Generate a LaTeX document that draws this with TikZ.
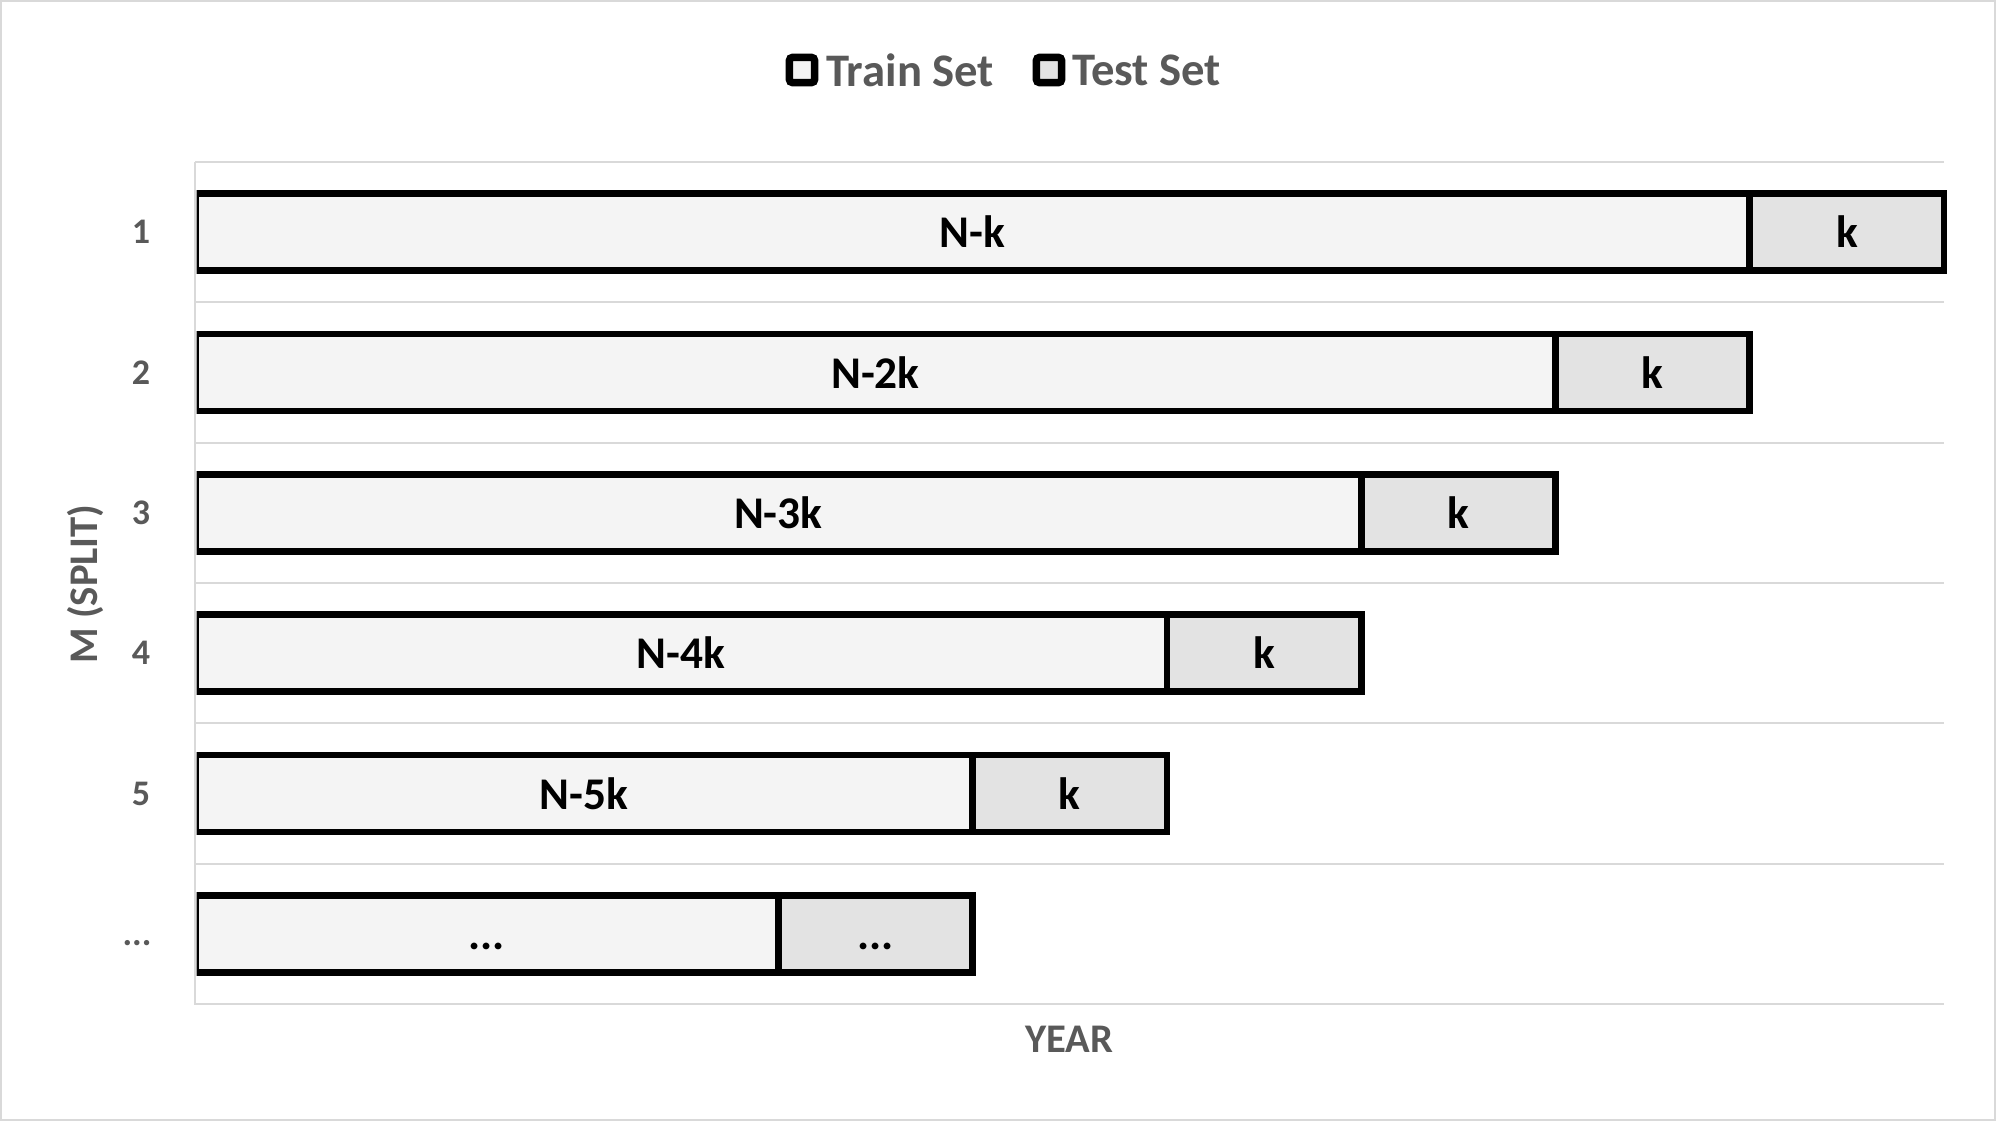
\documentclass[tikz,border=0pt]{standalone}
\usepackage{fontspec}
\setmainfont{Carlito}
\definecolor{txtgray}{HTML}{595959}
\definecolor{gridgray}{HTML}{D9D9D9}
\definecolor{trainfill}{HTML}{F4F4F4}
\definecolor{testfill}{HTML}{E3E3E3}
\begin{document}
\begin{tikzpicture}[x=0.75pt,y=-0.75pt,
  barpart/.style={draw=black,line width=5pt,minimum height=57.75pt,inner sep=0pt,outer sep=0pt,anchor=west,
     font=\fontsize{34}{40}\selectfont\bfseries,text=black,text height=23.5pt,text depth=0pt},
  trainbar/.style={barpart,fill=trainfill},
  testbar/.style={barpart,fill=testfill},
  rowlab/.style={font=\fontsize{27}{32}\selectfont\bfseries,text=txtgray,text height=17.5pt,text depth=0pt,inner sep=0pt},
  axlab/.style={font=\fontsize{30.5}{36}\selectfont\bfseries,text=txtgray},
  legtext/.style={font=\fontsize{35}{42}\selectfont\bfseries,text=txtgray,anchor=west,inner sep=0pt},
  legbox/.style={draw=black,line width=5.6pt,rounded corners=2.5pt,minimum size=19pt,inner sep=0pt,outer sep=0pt},
  grid/.style={draw=gridgray,line width=1.5pt}]
\def\u{145.71pt}
% background and frame
\path[fill=white] (0,0) rectangle (1996,1121);
\draw[gridgray,line width=1.5pt] (1,1) rectangle (1995,1120);
\useasboundingbox (0,0) rectangle (1996,1121);
% gridlines
\foreach \yy in {162,302.33,442.67,583,723.33,863.67}{
  \draw[grid] (195,\yy) -- (1944,\yy);
}
\draw[grid] (195,162) -- (195,1004) -- (1944,1004);
% bars
\begin{scope}
\clip (196.7,140) rectangle (1996,1000);
\node[trainbar,minimum width={8*\u}] (tr1) at (195.5,232.2) {N-k};
\node[testbar,minimum width={\u}] (te1) at (tr1.east) {k};
\node[trainbar,minimum width={7*\u}] (tr2) at (195.5,372.5) {N-2k};
\node[testbar,minimum width={\u}] (te2) at (tr2.east) {k};
\node[trainbar,minimum width={6*\u}] (tr3) at (195.5,512.8) {N-3k};
\node[testbar,minimum width={\u}] (te3) at (tr3.east) {k};
\node[trainbar,minimum width={5*\u}] (tr4) at (195.5,653.2) {N-4k};
\node[testbar,minimum width={\u}] (te4) at (tr4.east) {k};
\node[trainbar,minimum width={4*\u}] (tr5) at (195.5,793.5) {N-5k};
\node[testbar,minimum width={\u}] (te5) at (tr5.east) {k};
\node[trainbar,minimum width={3*\u}] (tr6) at (195.5,933.8) {...};
\node[testbar,minimum width={\u}] (te6) at (tr6.east) {...};
\end{scope}
% row labels
\node[rowlab] (r1) at (141,232.2) {1};
\node[rowlab] (r2) at (141,372.5) {2};
\node[rowlab] (r3) at (141,512.8) {3};
\node[rowlab] (r4) at (141,653.2) {4};
\node[rowlab] (r5) at (141,793.5) {5};
\node[rowlab] (r6) at (137,933.8) {...};
% axis titles
\node[axlab] (xt) at (1069,1039) {YEAR};
\node[axlab,rotate=90] (yt) at (85,584) {M (SPLIT)};
% legend
\node[legbox,fill=trainfill] (lb1) at (802,70) {};
\node[legtext] (lt1) at (826,70) {Train Set};
\node[legbox,fill=testfill] (lb2) at (1049,70) {};
\node[legtext] (lt2) at (1072,70) {Test Set};
\end{tikzpicture}
\end{document}
